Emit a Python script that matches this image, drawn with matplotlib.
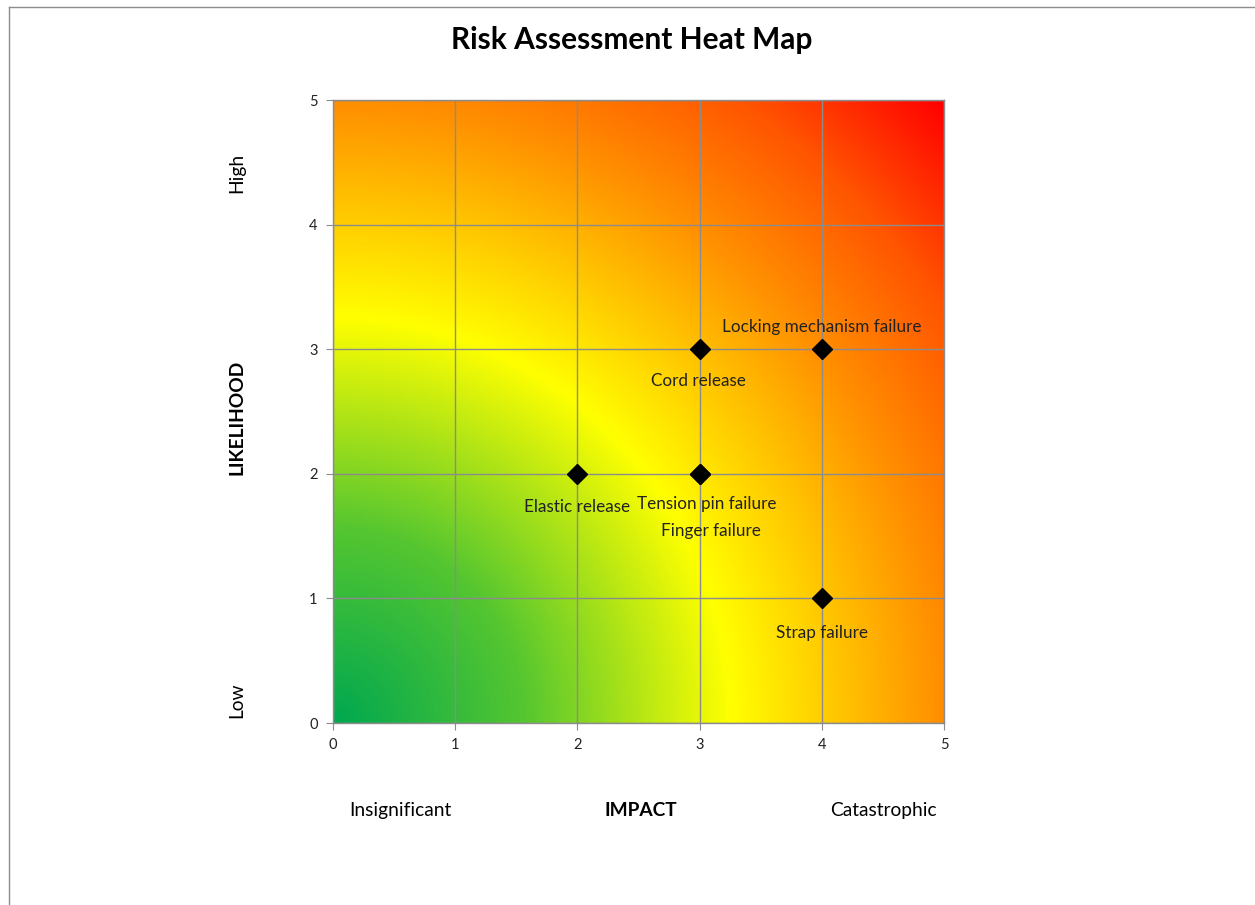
import matplotlib as mpl
mpl.use('Agg')
import matplotlib.pyplot as plt
from matplotlib.colors import LinearSegmentedColormap
from matplotlib.lines import Line2D
import numpy as np

# risk items: impact (x) and likelihood (y)
risk_names = ['Locking mechanism failure', 'Cord release', 'Elastic release',
              'Tension pin failure', 'Finger failure', 'Strap failure']
impact = [4, 3, 2, 3, 3, 4]
likelihood = [3, 3, 2, 2, 2, 1]
# label offsets in points (dx, dy) relative to marker
label_offsets = [(0, 16), (-1, -23), (0, -24), (5, -22), (8, -41), (0, -25)]

ticks = [0, 1, 2, 3, 4, 5]

plt.rcParams['font.family'] = ['Lato', 'DejaVu Sans']

fig = plt.figure(figsize=(12.55, 9.05), dpi=100)
ax = fig.add_axes([333/1255, 1-723/905, 611/1255, 623/905])

# radial gradient from the lower-left corner (green -> yellow -> orange -> red)
cmap = LinearSegmentedColormap.from_list('risk', [
    (0.00, (0/255, 168/255, 80/255)),
    (0.22, (85/255, 198/255, 48/255)),
    (0.46, (255/255, 255/255, 0/255)),
    (0.70, (255/255, 145/255, 0/255)),
    (0.85, (255/255, 85/255, 0/255)),
    (1.00, (255/255, 0/255, 0/255)),
])
gx, gy = np.meshgrid(np.linspace(0, 5, 400), np.linspace(0, 5, 400))
r = np.sqrt(gx**2 + gy**2) / np.sqrt(50)
ax.imshow(r, cmap=cmap, origin='lower', extent=[0, 5, 0, 5],
          aspect='auto', interpolation='bilinear', zorder=0, vmin=0, vmax=1)

ax.set_xlim(0, 5)
ax.set_ylim(0, 5)
ax.set_xticks(ticks)
ax.set_yticks(ticks)
ax.grid(True, color='#8c8c8c', linewidth=1.0, zorder=1)
ax.set_axisbelow(False)
for s in ax.spines.values():
    s.set_color('#8c8c8c')
    s.set_linewidth(1.0)
ax.tick_params(direction='out', length=5, color='#8c8c8c', labelsize=10.5,
               pad=6, labelcolor='#222222')

ax.plot(impact, likelihood, linestyle='none', marker='D', markersize=10,
        color='black', zorder=3, clip_on=False)
for name, x, y, off in zip(risk_names, impact, likelihood, label_offsets):
    ax.annotate(name, (x, y), xytext=off, textcoords='offset points',
                ha='center', va='center', fontsize=12.3, color='#222222', zorder=4)

fig.text(632/1255, 1-40/905, 'Risk Assessment Heat Map', ha='center', va='center',
         fontsize=21.5, fontweight='bold', color='black')
fig.text(400/1255, 1-810/905, 'Insignificant', ha='center', va='center', fontsize=13.8)
fig.text(641/1255, 1-811/905, 'IMPACT', ha='center', va='center', fontsize=13.8,
         fontweight='bold')
fig.text(883/1255, 1-810/905, 'Catastrophic', ha='center', va='center', fontsize=13.8)
fig.text(237/1255, 1-173/905, 'High', ha='center', va='center', fontsize=13.8, rotation=90)
fig.text(237/1255, 1-417/905, 'LIKELIHOOD', ha='center', va='center', fontsize=13.8,
         fontweight='bold', rotation=90)
fig.text(237/1255, 1-700/905, 'Low', ha='center', va='center', fontsize=13.8, rotation=90)

# outer chart border (top and left edges visible)
fig.add_artist(Line2D([9/1255, 1.0], [1-7/905, 1-7/905], color='#8c8c8c', linewidth=1.0))
fig.add_artist(Line2D([9/1255, 9/1255], [0, 1-7/905], color='#8c8c8c', linewidth=1.0))

fig.savefig('out.png', dpi=100)
